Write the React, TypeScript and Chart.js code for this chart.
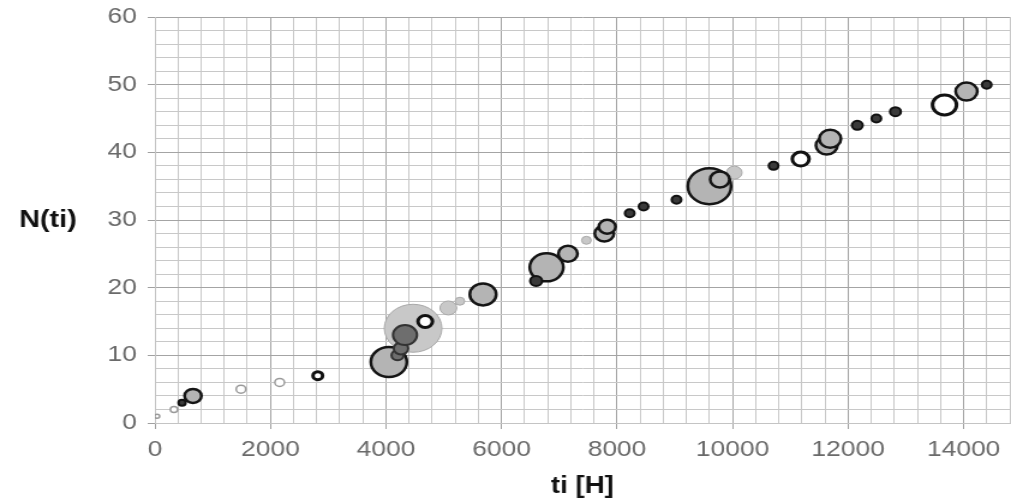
import React, { useEffect, useRef } from 'react';
import { Chart, registerables } from 'chart.js';

Chart.register(...registerables);

// ---- data (ti [H], N(ti), bubble size) ----
const xMax = 14800;
const xStep = 400;
const xLabelEvery = 2000;
const yMax = 60;
const yStep = 2;
const yLabelEvery = 10;
const xTitle = 'ti [H]';
const yTitle = 'N(ti)';

// small grey open circles
const openGrayT = [40, 330, 1490, 2160];
const openGrayN = [1, 2, 5, 6];
const openGrayR = [2, 3, 4, 4];

// light grey filled circles
const lightT = [4470, 5080, 5280, 7470, 10030];
const lightN = [14, 17, 18, 27, 37];
const lightR = [24, 7, 4, 4, 6.5];

// black outlined grey circles
const outlinedT = [660, 4050, 5680, 6780, 7150, 7780, 7830, 9600, 9780, 11630, 11690, 14050];
const outlinedN = [4, 9, 19, 23, 25, 28, 29, 35, 36, 41, 42, 49];
const outlinedR = [7, 15, 11, 14, 8, 8, 7, 18, 8, 9, 9, 9];

// dark grey circles
const darkT = [4200, 4260, 4330];
const darkN = [10, 11, 13];
const darkR = [5, 6, 10];

// black rings with white centre
const ringT = [2820, 4680, 11180, 13670];
const ringN = [7, 15, 39, 47];
const ringR = [4, 6, 7, 10];

// small black dots
const blackT = [470, 6600, 8220, 8460, 9030, 10710, 12160, 12490, 12820, 14400];
const blackN = [3, 21, 31, 32, 33, 38, 44, 45, 46, 50];
const blackR = [3, 5, 4, 4, 4, 4, 4.5, 4, 4.5, 4];

const pts = (t: number[], n: number[], r: number[]) =>
  t.map((v, i) => ({ x: v, y: n[i], r: r[i] }));

const FONT = '"Liberation Sans", Arial, sans-serif';
const CANVAS_W = 842; // drawn narrower, then stretched to 1011px like the source image
const CSS_W = 1011;
const H = 500;

const yTitlePlugin = {
  id: 'yTitleHorizontal',
  afterDraw(chart: any) {
    const { ctx } = chart;
    ctx.save();
    ctx.font = `bold 24px ${FONT}`;
    ctx.fillStyle = '#111';
    ctx.textAlign = 'center';
    ctx.textBaseline = 'middle';
    const a = chart.chartArea;
    ctx.fillText(yTitle, 40, (a.top + a.bottom) / 2);
    ctx.restore();
  },
};

export default function App() {
  const ref = useRef<HTMLCanvasElement>(null);

  useEffect(() => {
    if (!ref.current) return;
    const gridColor = (major: boolean) => (major ? '#a4a4a4' : '#c8c8c8');
    const chart = new Chart(ref.current, {
      type: 'bubble',
      data: {
        datasets: [
          {
            data: pts(blackT, blackN, blackR),
            backgroundColor: '#3a3a3a',
            borderColor: '#111',
            borderWidth: 2,
          },
          {
            data: pts(ringT, ringN, ringR),
            backgroundColor: '#ffffff',
            borderColor: '#111',
            borderWidth: 3,
          },
          {
            data: pts(darkT, darkN, darkR),
            backgroundColor: '#6e6e6e',
            borderColor: '#333',
            borderWidth: 2,
          },
          {
            data: pts(outlinedT, outlinedN, outlinedR),
            backgroundColor: '#b4b4b4',
            borderColor: '#151515',
            borderWidth: 2.5,
          },
          {
            data: pts(openGrayT, openGrayN, openGrayR),
            backgroundColor: '#ffffff',
            borderColor: '#9a9a9a',
            borderWidth: 1.5,
          },
          {
            data: pts(lightT, lightN, lightR),
            backgroundColor: '#c8c8c8',
            borderColor: '#a8a8a8',
            borderWidth: 1,
          },
        ],
      },
      options: {
        animation: false,
        responsive: false,
        devicePixelRatio: 1,
        layout: { autoPadding: false, padding: { top: 17, right: 1, bottom: 0, left: 0 } },
        plugins: { legend: { display: false }, tooltip: { enabled: false } },
        scales: {
          x: {
            type: 'linear',
            min: 0,
            max: xMax,
            afterFit: (s: any) => {
              s.height = 77;
              s.paddingLeft = 0;
              s.paddingRight = 0;
            },
            ticks: {
              stepSize: xStep,
              autoSkip: false,
              maxRotation: 0,
              padding: 8,
              color: '#6a6a6a',
              font: { family: FONT, size: 22 },
              callback: (v: any) => (Number(v) % xLabelEvery === 0 ? String(v) : ''),
            },
            grid: {
              color: (c: any) => gridColor(c.tick && c.tick.value % xLabelEvery === 0),
              tickColor: (c: any) =>
                c.tick && c.tick.value % xLabelEvery === 0 ? '#a0a0a0' : 'rgba(0,0,0,0)',
              tickLength: 6,
              lineWidth: 1,
            },
            border: { color: '#c4c4c4', width: 1 },
            title: {
              display: true,
              text: xTitle,
              color: '#111',
              font: { family: FONT, size: 23, weight: 'bold' },
              padding: { top: 0, bottom: 0 },
            },
          },
          y: {
            type: 'linear',
            min: 0,
            max: yMax,
            afterFit: (s: any) => {
              s.width = 129;
              s.paddingTop = 0;
              s.paddingBottom = 0;
            },
            ticks: {
              stepSize: yStep,
              autoSkip: false,
              padding: 9,
              color: '#6a6a6a',
              font: { family: FONT, size: 22 },
              callback: (v: any) => (Number(v) % yLabelEvery === 0 ? String(v) : ''),
            },
            grid: {
              color: (c: any) => gridColor(c.tick && c.tick.value % yLabelEvery === 0),
              tickColor: (c: any) =>
                c.tick && c.tick.value % yLabelEvery === 0 ? '#a0a0a0' : 'rgba(0,0,0,0)',
              tickLength: 6,
              lineWidth: 1,
            },
            border: { color: '#c4c4c4', width: 1 },
          },
        },
      },
      plugins: [yTitlePlugin],
    });
    return () => chart.destroy();
  }, []);

  return (
    <div style={{ position: 'absolute', left: 0, top: 0, width: CSS_W, height: H, background: '#fff' }}>
      <canvas
        ref={ref}
        width={CANVAS_W}
        height={H}
        style={{ width: `${CSS_W}px`, height: `${H}px`, display: 'block' }}
      />
    </div>
  );
}
